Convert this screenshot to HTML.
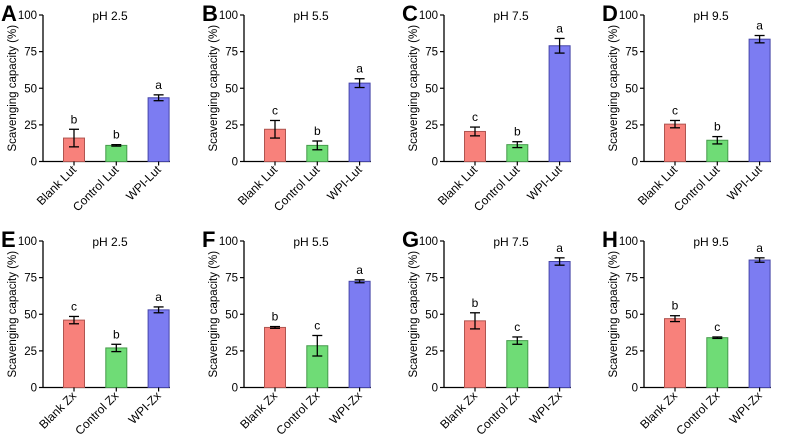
<!DOCTYPE html>
<html><head><meta charset="utf-8"><style>
html,body{margin:0;padding:0;background:#fff}
svg{display:block;font-family:"Liberation Sans",sans-serif}
</style></head><body>
<svg id="c" width="798" height="440"></svg>
<script>
const panelLetters=["A","B","C","D","E","F","G","H"];
const titles=["pH 2.5","pH 5.5","pH 7.5","pH 9.5","pH 2.5","pH 5.5","pH 7.5","pH 9.5"];
const catsLut=["Blank Lut","Control Lut","WPI-Lut"];
const catsZx=["Blank Zx","Control Zx","WPI-Zx"];
const means=[[16,11,43.5],[22,11,53.5],[20.5,11.5,79],[25.5,14.5,83.5],[46,27,53],[41,28.5,72.5],[45.5,32,86],[47,34,87]];
const errs=[[6,0.5,2],[6,3,3],[3,2,5],[2.5,2.5,2.5],[2.5,2.5,2],[0.6,7,1],[5.5,2.5,2.5],[2,0.5,1.5]];
const sig=[["b","b","a"],["c","b","a"],["c","b","a"],["c","b","a"],["c","b","a"],["b","c","a"],["b","c","a"],["b","c","a"]];
const ticks=[0,25,50,75,100];
const fills=["#f8817b","#6fdc76","#7c7cf2"];
const strokes=["#b05550","#459a4b","#4545a8"];
const NS="http://www.w3.org/2000/svg";
const svg=document.getElementById("c");
function mk(t,a,p){const e=document.createElementNS(NS,t);for(const k in a)e.setAttribute(k,a[k]);(p||svg).appendChild(e);return e;}
for(let p=0;p<8;p++){
  const ox=(p%4)*200+(p%4===0?0:1), oy=p<4?0:226;
  const ax=ox+43, y0=oy+161.5, yTop=oy+15;
  const ys=v=>y0-(y0-yTop)*v/100;
  const xs=i=>ax+31+i*42.3;
  const g=mk("g",{});
  
  
  const L=mk("text",{x:ox+1,y:oy+21,"font-size":22,"font-weight":"bold"},g);L.textContent=panelLetters[p];
  
  const T=mk("text",{x:ax+67,y:oy+20,"font-size":12,"text-anchor":"middle"},g);T.textContent=titles[p];
  
  const Y=mk("text",{transform:`translate(${ox+16},${(y0+yTop)/2}) rotate(-90)`,"font-size":11.5,"text-anchor":"middle"},g);Y.textContent="Scavenging capacity (%)";
  
  mk("line",{x1:ax,y1:yTop,x2:ax,y2:y0,stroke:"#000","stroke-width":1.3},g);
  mk("line",{x1:ax,y1:y0,x2:ax+127,y2:y0,stroke:"#000","stroke-width":1.3},g);
  ticks.forEach(t=>{
    mk("line",{x1:ax-4,y1:ys(t),x2:ax,y2:ys(t),stroke:"#000","stroke-width":1.2},g);
    const tt=mk("text",{x:ax-6,y:ys(t)+4,"font-size":11.5,"text-anchor":"end"},g);tt.textContent=t;
    
  });
  const cats=p<4?catsLut:catsZx;
  for(let i=0;i<3;i++){
    const cx=xs(i),m=means[p][i],e=errs[p][i];
    const b=mk("rect",{x:cx-10.5,y:ys(m),width:21,height:y0-ys(m),fill:fills[i],stroke:strokes[i],"stroke-width":1},g);
    
    mk("line",{x1:cx,y1:ys(m+e),x2:cx,y2:Math.min(y0,ys(m-e)),stroke:"#000","stroke-width":1.3},g);
    mk("line",{x1:cx-5,y1:ys(m+e),x2:cx+5,y2:ys(m+e),stroke:"#000","stroke-width":1.3},g);
    mk("line",{x1:cx-5,y1:ys(m-e),x2:cx+5,y2:ys(m-e),stroke:"#000","stroke-width":1.3},g);
    mk("line",{x1:cx,y1:y0,x2:cx,y2:y0+4,stroke:"#000","stroke-width":1.2},g);
    const s=mk("text",{x:cx,y:ys(m+e)-6,"font-size":12,"text-anchor":"middle"},g);s.textContent=sig[p][i];
    
    const xl=mk("text",{transform:`translate(${cx+3},${y0+9}) rotate(-45)`,"font-size":12,"text-anchor":"end"},g);xl.textContent=cats[i];
    
  }
}
</script>
</body></html>
